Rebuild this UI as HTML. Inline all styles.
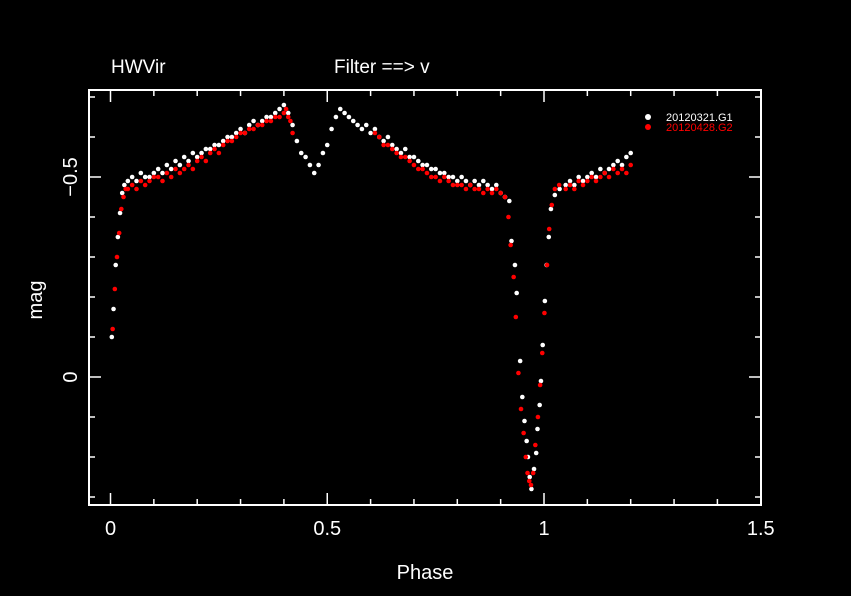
<!DOCTYPE html>
<html><head><meta charset="utf-8"><style>
html,body{margin:0;padding:0;background:#000;}
svg{display:block;font-family:"Liberation Sans",sans-serif;}
</style></head><body>
<svg id="chart" width="851" height="596" viewBox="0 0 851 596">
<rect x="0" y="0" width="851" height="596" fill="#000"/>
<text x="111" y="73" fill="#fff" font-size="19">HWVir</text>
<text x="334" y="73" fill="#fff" font-size="19">Filter ==&gt; v</text>
<rect x="89" y="90" width="672" height="415" fill="none" stroke="#fff" stroke-width="2"/>
<g id="ticks"></g>
<g id="labels"></g>
<text x="425" y="579" fill="#fff" font-size="20" text-anchor="middle">Phase</text>
<text transform="translate(42,300) rotate(-90)" fill="#fff" font-size="20" text-anchor="middle">mag</text>
<g id="marks"></g>
<g>
<circle cx="648" cy="117" r="3" fill="#fff"/>
<text x="666" y="121" fill="#fff" font-size="11">20120321.G1</text>
<circle cx="648" cy="127" r="3" fill="#f00"/>
<text x="666" y="131" fill="#f00" font-size="11">20120428.G2</text>
</g>
</svg>
<script>
const xTicks = [0, 0.5, 1, 1.5];
const xTickLabels = ["0", "0.5", "1", "1.5"];
const yTicks = [-0.5, 0];
const yTickLabels = ["\u22120.5", "0"];
const g1Phase = [0.003,0.007,0.012,0.017,0.022,0.027,0.032,0.04,0.05,0.06,0.07,0.08,0.09,0.10,0.11,0.12,0.13,0.14,0.15,0.16,0.17,0.18,0.19,0.20,0.21,0.22,0.23,0.24,0.25,0.26,0.27,0.28,0.29,0.30,0.31,0.32,0.33,0.34,0.35,0.36,0.37,0.38,0.39,0.40,0.41,0.42,0.43,0.44,0.45,0.46,0.47,0.48,0.49,0.50,0.51,0.52,0.53,0.54,0.55,0.56,0.57,0.58,0.59,0.60,0.61,0.62,0.63,0.64,0.65,0.66,0.67,0.68,0.69,0.70,0.71,0.72,0.73,0.74,0.75,0.76,0.77,0.78,0.79,0.80,0.81,0.82,0.83,0.84,0.85,0.86,0.87,0.88,0.89,0.90,0.91,0.92,0.925,0.933,0.937,0.945,0.95,0.955,0.96,0.963,0.967,0.971,0.977,0.982,0.985,0.99,0.993,0.997,1.002,1.006,1.011,1.016,1.025,1.036,1.05,1.06,1.07,1.08,1.09,1.10,1.11,1.12,1.13,1.14,1.15,1.16,1.17,1.18,1.19,1.20];
const g1Mag = [-0.10,-0.17,-0.28,-0.35,-0.41,-0.46,-0.48,-0.49,-0.50,-0.49,-0.51,-0.50,-0.50,-0.51,-0.52,-0.51,-0.53,-0.52,-0.54,-0.53,-0.55,-0.54,-0.56,-0.55,-0.56,-0.57,-0.57,-0.58,-0.58,-0.59,-0.60,-0.60,-0.61,-0.62,-0.61,-0.63,-0.64,-0.63,-0.64,-0.65,-0.65,-0.66,-0.67,-0.68,-0.66,-0.63,-0.59,-0.56,-0.55,-0.53,-0.51,-0.53,-0.56,-0.58,-0.62,-0.65,-0.67,-0.66,-0.65,-0.64,-0.63,-0.62,-0.63,-0.61,-0.62,-0.60,-0.59,-0.60,-0.58,-0.57,-0.56,-0.57,-0.55,-0.55,-0.54,-0.53,-0.53,-0.52,-0.52,-0.51,-0.51,-0.50,-0.50,-0.49,-0.50,-0.49,-0.48,-0.49,-0.48,-0.49,-0.48,-0.47,-0.48,-0.46,-0.45,-0.44,-0.34,-0.28,-0.21,-0.04,0.05,0.11,0.16,0.20,0.25,0.28,0.23,0.19,0.13,0.07,0.01,-0.08,-0.19,-0.28,-0.35,-0.42,-0.455,-0.47,-0.48,-0.49,-0.48,-0.50,-0.49,-0.50,-0.51,-0.50,-0.52,-0.51,-0.52,-0.53,-0.54,-0.53,-0.55,-0.56];
const g2Phase = [0.005,0.01,0.015,0.02,0.025,0.03,0.035,0.04,0.05,0.06,0.07,0.08,0.09,0.10,0.11,0.12,0.13,0.14,0.15,0.16,0.17,0.18,0.19,0.20,0.21,0.22,0.23,0.24,0.25,0.26,0.27,0.28,0.29,0.30,0.31,0.32,0.33,0.34,0.35,0.36,0.37,0.38,0.39,0.40,0.405,0.41,0.415,0.42,0.61,0.62,0.63,0.64,0.65,0.66,0.67,0.68,0.69,0.70,0.71,0.72,0.73,0.74,0.75,0.76,0.77,0.78,0.79,0.80,0.81,0.82,0.83,0.84,0.85,0.86,0.87,0.88,0.89,0.90,0.91,0.918,0.923,0.93,0.935,0.941,0.947,0.953,0.958,0.962,0.966,0.97,0.975,0.98,0.986,0.991,0.996,1.001,1.007,1.012,1.018,1.025,1.035,1.05,1.06,1.07,1.08,1.09,1.10,1.11,1.12,1.13,1.14,1.15,1.16,1.17,1.18,1.19,1.20];
const g2Mag = [-0.12,-0.22,-0.30,-0.36,-0.42,-0.45,-0.47,-0.47,-0.48,-0.47,-0.49,-0.48,-0.49,-0.50,-0.50,-0.49,-0.51,-0.50,-0.52,-0.51,-0.52,-0.53,-0.52,-0.54,-0.55,-0.54,-0.56,-0.57,-0.56,-0.58,-0.59,-0.59,-0.60,-0.61,-0.61,-0.62,-0.62,-0.63,-0.63,-0.64,-0.64,-0.65,-0.65,-0.66,-0.67,-0.65,-0.64,-0.61,-0.61,-0.60,-0.58,-0.58,-0.57,-0.56,-0.55,-0.55,-0.54,-0.53,-0.52,-0.52,-0.51,-0.50,-0.50,-0.49,-0.50,-0.49,-0.48,-0.48,-0.48,-0.47,-0.48,-0.47,-0.47,-0.46,-0.47,-0.46,-0.47,-0.46,-0.45,-0.40,-0.33,-0.25,-0.15,-0.01,0.08,0.14,0.20,0.24,0.26,0.27,0.24,0.17,0.10,0.02,-0.06,-0.16,-0.28,-0.37,-0.43,-0.47,-0.48,-0.47,-0.48,-0.47,-0.49,-0.48,-0.49,-0.50,-0.49,-0.50,-0.51,-0.50,-0.52,-0.51,-0.52,-0.51,-0.53];

const NS = "http://www.w3.org/2000/svg";
function xScale(p){ return 110.5 + 433.5 * p; }
function yScale(m){ return 377 + 400 * m; }

const ticks = document.getElementById('ticks');
function line(x1,y1,x2,y2,name){
  const l = document.createElementNS(NS,'line');
  l.setAttribute('x1',x1); l.setAttribute('y1',y1); l.setAttribute('x2',x2); l.setAttribute('y2',y2);
  l.setAttribute('stroke','#fff'); l.setAttribute('stroke-width','1.5');
  
  
  ticks.appendChild(l);
}
for(let i=0;i<=15;i++){
  const p=i/10, x=xScale(p), major=(i%5===0), len=major?12:6;
  line(x,505,x,505-len,'x-tick');
  line(x,90,x,90+len,'x-tick-top');
}
for(let i=-7;i<=3;i++){
  const m=i/10, y=yScale(m), major=(i%5===0), len=major?12:6;
  line(89,y,89+len,y,'y-tick');
  line(761,y,761-len,y,'y-tick-right');
}
const labels = document.getElementById('labels');
xTicks.forEach((v,i)=>{
  const t=document.createElementNS(NS,'text');
  t.setAttribute('x',xScale(v)); t.setAttribute('y',535);
  t.setAttribute('fill','#fff'); t.setAttribute('font-size','20'); t.setAttribute('text-anchor','middle');
  
  
  t.textContent=xTickLabels[i]; labels.appendChild(t);
});
yTicks.forEach((v,i)=>{
  const t=document.createElementNS(NS,'text');
  t.setAttribute('transform','translate(77,'+yScale(v)+') rotate(-90)');
  t.setAttribute('fill','#fff'); t.setAttribute('font-size','20'); t.setAttribute('text-anchor','middle');
  
  
  t.textContent=yTickLabels[i]; labels.appendChild(t);
});
const marks = document.getElementById('marks');
function series(ph, mg, color, name){
  ph.forEach((p,i)=>{
    const c=document.createElementNS(NS,'circle');
    c.setAttribute('cx',xScale(p)); c.setAttribute('cy',yScale(mg[i])); c.setAttribute('r','2.3');
    c.setAttribute('fill',color);
    
    
    marks.appendChild(c);
  });
}
series(g1Phase,g1Mag,'#fff','point-g1');
series(g2Phase,g2Mag,'#f00','point-g2');
</script>
</body></html>
